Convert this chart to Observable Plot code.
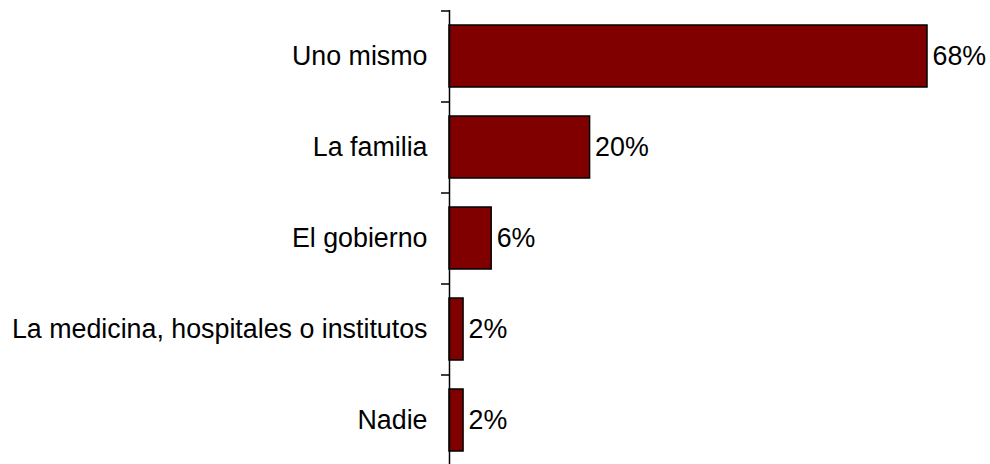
<!DOCTYPE html>
<html>
<head>
<meta charset="utf-8">
<script src="https://cdn.jsdelivr.net/npm/d3@7"></script>
<script src="https://cdn.jsdelivr.net/npm/@observablehq/plot@0.6"></script>
<style>
  html, body { margin: 0; padding: 0; background: #fff; }
  svg { display: block; }
</style>
</head>
<body>
<div id="chart"></div>
<script>
const categories = ["Uno mismo", "La familia", "El gobierno", "La medicina, hospitales o institutos", "Nadie"];
const values = [68, 20, 6, 2, 2];
const valueLabels = ["68%", "20%", "6%", "2%", "2%"];

const data = categories.map((c, i) => ({category: c, value: values[i], label: valueLabels[i]}));

const FS = 26.8;
const chart = Plot.plot({
  width: 990,
  height: 464,
  marginLeft: 449,
  marginRight: 63,
  marginTop: 10,
  marginBottom: 0,
  style: {fontFamily: "'Liberation Sans', Arial, sans-serif", fontSize: FS + "px", color: "#000", background: "#fff"},
  x: {domain: [0, 68], axis: null},
  y: {domain: categories, range: [10, 465], paddingInner: 0.32, paddingOuter: 0.16, axis: null, label: null},
  marks: [
    Plot.barX(data, {x: "value", y: "category", fill: "#800000", stroke: "#000", strokeWidth: 1.5}),
    Plot.text(data, {x: "value", y: "category", text: "label", textAnchor: "start", dx: 5, fill: "#000", fontSize: FS}),
    Plot.axisY(categories, {tickSize: 0, tickPadding: 22, fontSize: FS, fill: "#000", label: null}),
    Plot.axisY(categories, {tickSize: 8, text: null, dy: -45.5, stroke: "#000", strokeWidth: 1.5, label: null}),
    Plot.ruleX([0], {stroke: "#000", strokeWidth: 1.5})
  ]
});
document.getElementById("chart").appendChild(chart);
</script>
</body>
</html>
